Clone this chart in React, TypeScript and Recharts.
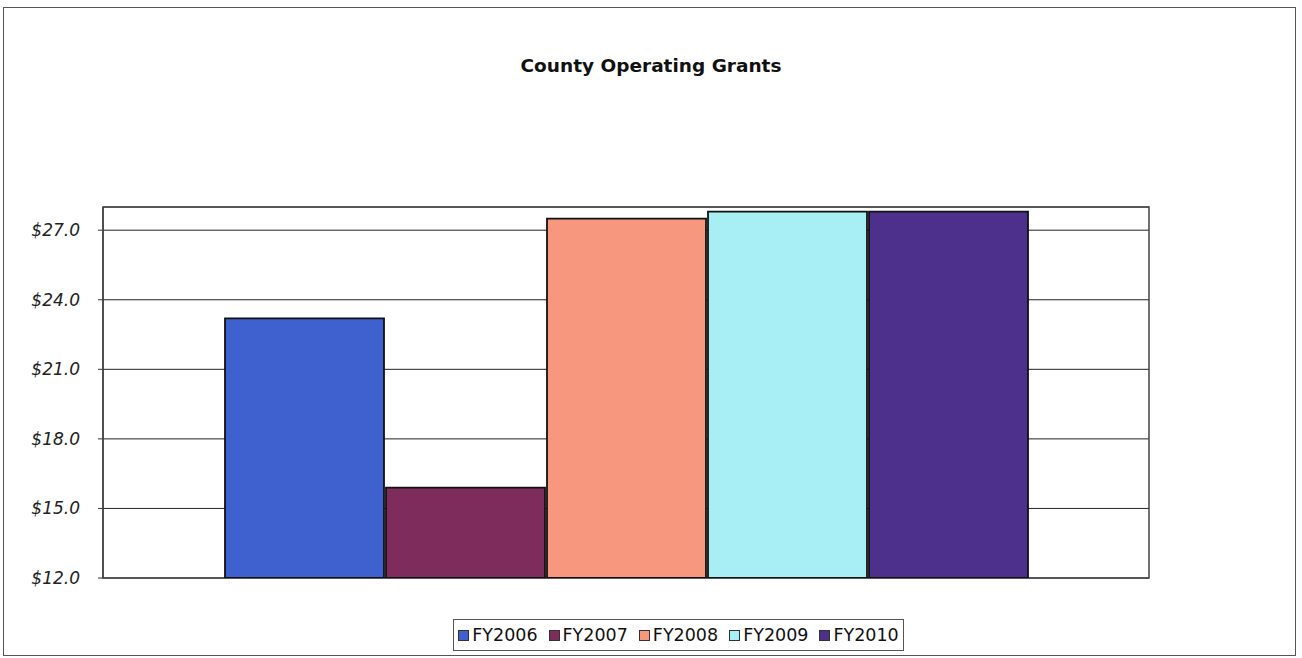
import React from 'react';
import { BarChart, Bar, XAxis, YAxis, CartesianGrid, ReferenceArea, Legend } from 'recharts';

const categories = ['County Operating Grants'];
const seriesNames = ['FY2006', 'FY2007', 'FY2008', 'FY2009', 'FY2010'];
const seriesValues = [23.2, 15.9, 27.5, 27.8, 27.8];
const seriesColors = ['#3f61d0', '#7d2c5c', '#f7977e', '#a8eef5', '#4d2f8c'];
const yTicks = [12, 15, 18, 21, 24, 27];
const yDomain = [12, 28];

const data = categories.map((c) => {
  const row: Record<string, any> = { name: c };
  seriesNames.forEach((s, i) => {
    row[s] = seriesValues[i];
  });
  return row;
});

const FONT = '"DejaVu Sans", Verdana, sans-serif';

const renderLegend = (props: any) => {
  const { payload } = props;
  return (
    <div
      style={{
        border: '1px solid #555',
        height: 32,
        boxSizing: 'border-box',
        display: 'flex',
        alignItems: 'center',
        justifyContent: 'center',
        fontFamily: FONT,
        fontSize: 17.5,
        color: '#111',
        background: '#fff',
      }}
    >
      {(payload || []).map((p: any, i: number) => (
        <div key={i} style={{ display: 'flex', alignItems: 'center', marginRight: i < payload.length - 1 ? 11 : 0 }}>
          <span
            style={{
              display: 'inline-block',
              width: 9,
              height: 9,
              border: '1.5px solid #333',
              background: p.color,
              marginRight: 3,
            }}
          />
          <span>{p.value}</span>
        </div>
      ))}
    </div>
  );
};

export default function App() {
  return (
    <div style={{ position: 'absolute', left: 0, top: 0, width: 1302, height: 658, background: '#fff' }}>
      <div
        style={{
          position: 'absolute',
          left: 3,
          top: 7,
          width: 1293,
          height: 649,
          border: '1px solid #555',
          boxSizing: 'border-box',
        }}
      />
      <div
        style={{
          position: 'absolute',
          left: 0,
          top: 55,
          width: 1302,
          textAlign: 'center',
          fontFamily: FONT,
          fontWeight: 'bold',
          fontSize: 18.5,
          color: '#111',
        }}
      >
        County Operating Grants
      </div>
      <div style={{ position: 'absolute', left: 0, top: 0 }}>
        <BarChart
          width={1302}
          height={658}
          data={data}
          margin={{ top: 207, right: 153, bottom: 80, left: 0 }}
          barCategoryGap={122}
          barGap={2}
        >
          <CartesianGrid vertical={false} stroke="#222" strokeWidth={1} />
          <XAxis dataKey="name" hide />
          <YAxis
            width={103}
            domain={yDomain}
            ticks={yTicks}
            allowDataOverflow
            axisLine={{ stroke: '#444', strokeWidth: 1.5 }}
            tickLine={{ stroke: '#333' }}
            tickSize={5}
            tickMargin={18}
            tickFormatter={(v: number) => `$${v.toFixed(1)}`}
            tick={{ fontFamily: FONT, fontStyle: 'italic', fontSize: 17, fill: '#222' }}
          />
          <ReferenceArea y1={12} y2={28} fill="none" stroke="#444" strokeWidth={1.5} ifOverflow="visible" />
          {seriesNames.map((s, i) => (
            <Bar
              key={s}
              dataKey={s}
              fill={seriesColors[i]}
              stroke="#111"
              strokeWidth={1.8}
              isAnimationActive={false}
            />
          ))}
          <Legend
            layout="horizontal"
            verticalAlign="middle"
            align="center"
            content={renderLegend}
            wrapperStyle={{ left: 453, top: 619, width: 451, height: 32 }}
          />
        </BarChart>
      </div>
    </div>
  );
}
